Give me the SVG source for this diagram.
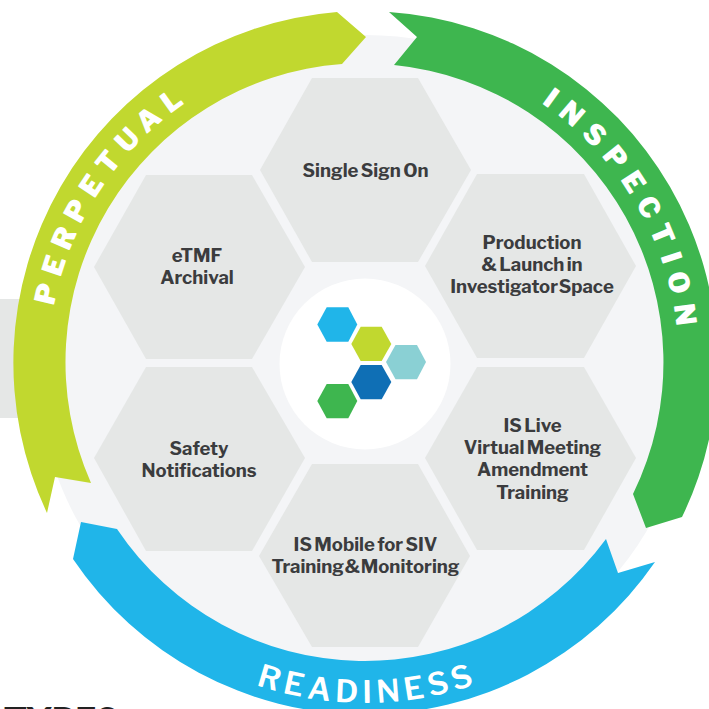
<svg xmlns="http://www.w3.org/2000/svg" width="709" height="709" viewBox="0 0 709 709">
<style>
.hex{fill:#e5e7e6}
.t{font-family:"Libre Franklin","Lato","Liberation Sans",sans-serif;font-weight:700;font-size:18.5px;fill:#3b3c3e;text-anchor:middle;word-spacing:-1.5px}
.tight{word-spacing:-3.2px}
.b{font-family:"Libre Franklin","Lato","Liberation Sans",sans-serif;font-weight:900;fill:#fff}
</style>
<defs>
<path id="pa" d="M54.200,306 A316,316 0 0 1 257,66"/>
<path id="pb" d="M541.500,103.300 A314,314 0 0 1 674,417.500"/>
<path id="pc" d="M256,685 A340,340 0 0 0 508.700,671"/>
</defs>
<rect width="709" height="709" fill="#fff"/>
<rect x="0" y="299" width="30" height="119" fill="#e5e7e6"/>
<circle cx="365" cy="363" r="328" fill="#f4f5f7"/>
<text x="4" y="735" font-family="Lato, 'Liberation Sans', sans-serif" font-weight="900" font-size="37.500" fill="#222">TYPES</text>
<g id="connectors">
<path id="perpetual" fill="#c1d82f" d="M47,513 L55,477 L91,483 A299,299 0 0 1 342,64 L366,37 L337,12 A352,352 0 0 0 47,513 Z"/>
<path id="inspection" fill="#3eb64f" d="M389,12 L417,37 L394,65 A299,299 0 0 1 633,494 L646,528 L682,517 A352,352 0 0 0 389,12 Z"/>
<path id="readiness" fill="#20b5e9" d="M81,522 L117,529 A299,299 0 0 0 606,539 L618,573 L655,562 A352,352 0 0 1 73,559 Z"/>
<text class="b" font-size="28" letter-spacing="8.600"><textPath href="#pa">PERPETUAL</textPath></text>
<text class="b" font-size="28" letter-spacing="9.800"><textPath href="#pb">INSPECTION</textPath></text>
<text class="b" font-size="31" style="font-weight:600" letter-spacing="5"><textPath href="#pc">READINESS</textPath></text>
</g>
<g id="node-single"><polygon class="hex" points="260,170 312,78 418,78 471,170 418,262 312,262"/><text class="t" x="365.500" y="177">Single Sign On</text></g>
<g id="node-etmf"><polygon class="hex" points="94,267 146,175 252,175 305,267 252,359 146,359"/><text class="t" x="197" y="262">eTMF</text><text class="t" x="197" y="284">Archival</text></g>
<g id="node-production"><polygon class="hex" points="425,266 477,174 584,174 636,266 584,358 477,358"/><text class="t" x="532" y="249">Production</text><text class="t" x="532" y="271">&amp; Launch in</text><text class="t tight" x="532" y="293">Investigator Space</text></g>
<g id="node-safety"><polygon class="hex" points="94,458 146,367 252,367 305,458 252,551 146,551"/><text class="t" x="199" y="455">Safety</text><text class="t" x="199" y="477">Notifications</text></g>
<g id="node-live"><polygon class="hex" points="425,458 477,367 584,367 636,458 584,550 477,550"/><text class="t" x="532.500" y="432">IS Live</text><text class="t" x="532.500" y="454">Virtual Meeting</text><text class="t" x="532.500" y="476">Amendment</text><text class="t" x="532.500" y="499">Training</text></g>
<g id="node-mobile"><polygon class="hex" points="259,556 312,464 418,464 470,556 418,647 312,647"/><text class="t" x="365.500" y="551">IS Mobile for SIV</text><text class="t tight" x="365.500" y="573">Training &amp; Monitoring</text></g>
<g id="node-logo">
<circle cx="365" cy="364" r="85.500" fill="#fff"/>
<polygon fill="#20b5e9" points="317.300,324.500 326.700,307.300 348.300,307.300 357.300,324.500 348.300,341.700 326.700,341.700"/>
<polygon fill="#c1d82f" points="351.300,344 360.700,326.700 381.700,326.700 391.300,344 381.700,361 360.700,361"/>
<polygon fill="#8ad0d4" points="386,362 395.500,345 417,345 426,362 417,379.300 395.500,379.300"/>
<polygon fill="#0f6fb5" points="351.300,382 360.700,365 381.700,365 391.300,382 381.700,399.300 360.700,399.300"/>
<polygon fill="#3eb64f" points="317.300,401 326.700,384 348.300,384 357.300,401 348.300,418.300 326.700,418.300"/>
</g>
</svg>
